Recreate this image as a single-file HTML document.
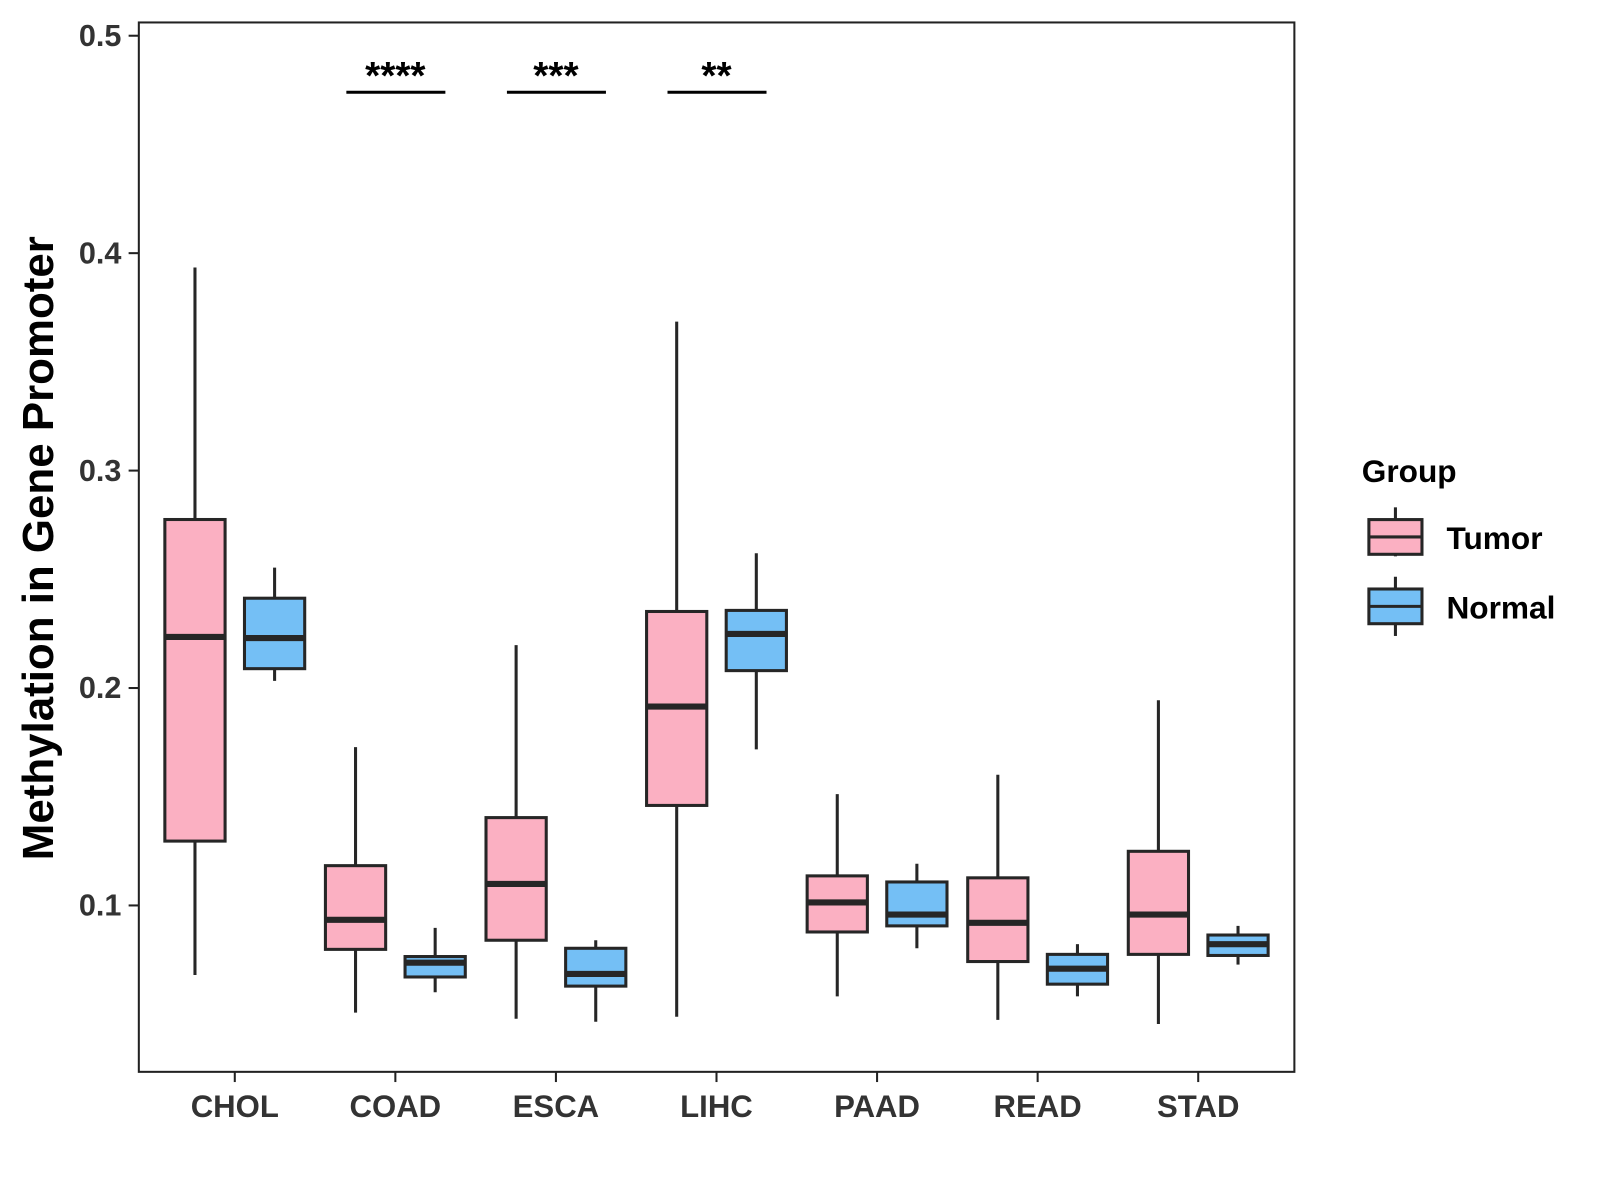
<!DOCTYPE html>
<html><head><meta charset="utf-8"><style>
html,body{margin:0;padding:0;background:#fff;}
svg{display:block;font-family:"Liberation Sans",Arial,sans-serif;}
</style></head><body>
<svg id="chart" width="1600" height="1200" viewBox="0 0 1600 1200">
<g transform="scale(1.0208)">
<rect x="136" y="22" width="1132" height="1028" fill="#fff" stroke="#222" stroke-width="2"/>
<g id="marks"></g>
<g id="axes"></g>
<text transform="translate(52,537) rotate(-90)" text-anchor="middle" font-size="43" font-weight="bold" fill="#000">Methylation in Gene Promoter</text>
<g>
<text x="1334" y="472" font-size="31" font-weight="bold" fill="#000">Group</text>
<g>
<line x1="1367" y1="497" x2="1367" y2="545" stroke="#262626" stroke-width="3"/>
<rect x="1341" y="509" width="52" height="34" fill="#FBB0C2" stroke="#262626" stroke-width="3"/>
<line x1="1341" y1="526" x2="1393" y2="526" stroke="#262626" stroke-width="3"/>
<text x="1417" y="538" font-size="31" font-weight="bold" fill="#000">Tumor</text>
</g>
<g>
<line x1="1367" y1="565" x2="1367" y2="623" stroke="#262626" stroke-width="3"/>
<rect x="1341" y="577" width="52" height="34" fill="#74BFF5" stroke="#262626" stroke-width="3"/>
<line x1="1341" y1="594" x2="1393" y2="594" stroke="#262626" stroke-width="3"/>
<text x="1417" y="606" font-size="31" font-weight="bold" fill="#000">Normal</text>
</g>
</g>
</g>
</svg>
<script>
const categories=["CHOL","COAD","ESCA","LIHC","PAAD","READ","STAD"];
// [lowWhisker, Q1, median, Q3, highWhisker]
const tumorStats=[[0.068,0.1296,0.2235,0.2775,0.3934],[0.0507,0.0798,0.0934,0.1183,0.1728],[0.0479,0.084,0.1099,0.1404,0.2197],[0.0488,0.146,0.1915,0.2352,0.3685],[0.0582,0.0878,0.1014,0.1136,0.1512],[0.0474,0.0742,0.092,0.1127,0.1601],[0.0455,0.0775,0.0958,0.1249,0.1944]];
const normalStats=[[0.2033,0.2089,0.223,0.2413,0.2554],[0.0601,0.0671,0.0737,0.0765,0.0897],[0.0465,0.0629,0.0685,0.0803,0.084],[0.1718,0.208,0.2249,0.2357,0.262],[0.0803,0.0906,0.0958,0.1108,0.1192],[0.0582,0.0638,0.0709,0.0775,0.0822],[0.0728,0.077,0.0822,0.0864,0.0906]];
const yTicks=[0.1,0.2,0.3,0.4,0.5];
const yTickLabels=["0.1","0.2","0.3","0.4","0.5"];
const sigCategories=["COAD","ESCA","LIHC"];
const sigLabels=["****","***","**"];
const sigLevel=0.474;

const NS="http://www.w3.org/2000/svg";
function y(v){return 35+(0.5-v)*2130;}
function x(i){return 230+i*157.3;}
function mk(tag,attrs,parent){const e=document.createElementNS(NS,tag);for(const k in attrs)e.setAttribute(k,attrs[k]);parent.appendChild(e);return e;}
const marks=document.getElementById('marks');
const axes=document.getElementById('axes');
const stroke="#262626";
function drawBox(cx,s,fill,name){
  const g=mk('g',{},marks);
  
  
  const hw=29.5;
  mk('line',{x1:cx,x2:cx,y1:y(s[4]),y2:y(s[0]),stroke:stroke,'stroke-width':3},g);
  mk('rect',{x:cx-hw,y:y(s[3]),width:2*hw,height:y(s[1])-y(s[3]),fill:fill,stroke:stroke,'stroke-width':3},g);
  mk('line',{x1:cx-hw,x2:cx+hw,y1:y(s[2]),y2:y(s[2]),stroke:stroke,'stroke-width':6},g);
}
categories.forEach((c,i)=>{
  drawBox(x(i)-39,tumorStats[i],"#FBB0C2","box-tumor-"+c.toLowerCase());
  drawBox(x(i)+39,normalStats[i],"#74BFF5","box-normal-"+c.toLowerCase());
  const t=mk('line',{x1:x(i),x2:x(i),y1:1050,y2:1060,stroke:"#222",'stroke-width':2},axes);
  
  
  const l=mk('text',{x:x(i),y:1094,'text-anchor':'middle','font-size':30.5,'font-weight':'bold',fill:'#333'},axes);
  l.textContent=c;
  
  
});
yTicks.forEach((v,i)=>{
  const t=mk('line',{x1:126,x2:136,y1:y(v),y2:y(v),stroke:"#222",'stroke-width':2},axes);
  
  
  const l=mk('text',{x:119,y:y(v)+10,'text-anchor':'end','font-size':30,'font-weight':'bold',fill:'#333'},axes);
  l.textContent=yTickLabels[i];
  
  
});
sigCategories.forEach((c,k)=>{
  const i=categories.indexOf(c);
  const g=mk('g',{},marks);
  
  
  mk('line',{x1:x(i)-48,x2:x(i)+49,y1:y(sigLevel),y2:y(sigLevel),stroke:'#000','stroke-width':3},g);
  const t=mk('text',{x:x(i),y:y(sigLevel)-3,'text-anchor':'middle','font-size':38,'font-weight':'bold',fill:'#000'},g);
  t.textContent=sigLabels[k];
});
</script>
</body></html>
